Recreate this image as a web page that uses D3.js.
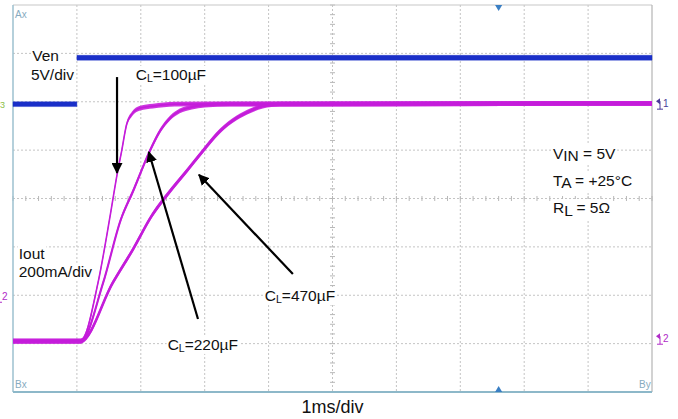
<!DOCTYPE html>
<html>
<head>
<meta charset="utf-8">
<script src="https://cdn.jsdelivr.net/npm/d3@7"></script>
<style>
body { margin: 0; background: #fff; }
text { font-family: "Liberation Sans", Arial, sans-serif; }
</style>
</head>
<body>
<script>
// scope settings: 1ms/div, 10 x 8 divisions
var divTimes = [-1, 0, 1, 2, 3, 4, 5, 6, 7, 8, 9];
var divLevels = [-4, -3, -2, -1, 0, 1, 2, 3, 4];

// Ven trace (V), 5V/div, ground at +1.95 div
var venTime = [-1, 0, null, 0, 9];
var venVolts = [0, 0, null, 4.8, 4.8];

// Iout traces (mA), 200mA/div, ground at -2.95 div
var caps = ["100µF", "220µF", "470µF"];
var ioutTime = [
  [-1, 0.06, 0.33, 0.52, 0.63, 0.70, 0.78, 0.86, 0.99, 1.19, 1.53, 9],
  [-1, 0.06, 0.41, 0.69, 0.88, 1.14, 1.30, 1.46, 1.61, 1.80, 2.00, 2.39, 9],
  [-1, 0.06, 0.56, 0.88, 1.17, 1.46, 1.72, 1.97, 2.24, 2.50, 2.71, 2.91, 3.18, 9]
];
var ioutMa = [
  [0, 0, 241, 518, 691, 786, 898, 939, 964, 972, 980, 983],
  [0, 0, 241, 505, 621, 786, 869, 923, 952, 968, 976, 980, 983],
  [0, 0, 241, 381, 518, 621, 704, 786, 869, 923, 952, 972, 980, 983]
];

var x = d3.scaleLinear().domain([-1, 9]).range([13, 652]);
var y = d3.scaleLinear().domain([-4, 4]).range([392, 5]);

var venDiv = function(v){ return 1.95 + v / 5; };
var ioutDiv = function(ma){ return -2.95 + ma / 200; };

var svg = d3.select("body").append("svg")
    .attr("width", 678)
    .attr("height", 419);

// grid
svg.selectAll("line.vgrid")
    .data(divTimes.slice(1, -1))
    .enter().append("line")
    .attr("class", "vgrid")
    .attr("x1", function(d){return x(d);})
    .attr("x2", function(d){return x(d);})
    .attr("y1", y(4))
    .attr("y2", y(-4))
    .attr("stroke", "#c4c4c4")
    .attr("stroke-dasharray", "2,2");

svg.selectAll("line.hgrid")
    .data(divLevels.slice(1, -1))
    .enter().append("line")
    .attr("class", "hgrid")
    .attr("y1", function(d){return y(d);})
    .attr("y2", function(d){return y(d);})
    .attr("x1", x(-1))
    .attr("x2", x(9))
    .attr("stroke", "#c4c4c4")
    .attr("stroke-dasharray", "2,2");

// minor ticks on the centre lines
svg.selectAll("line.xtick")
    .data(d3.range(-1, 9.001, 0.2))
    .enter().append("line")
    .attr("class", "xtick")
    .attr("x1", function(d){return x(d);})
    .attr("x2", function(d){return x(d);})
    .attr("y1", y(0) - 2.5)
    .attr("y2", y(0) + 2.5)
    .attr("stroke", "#b8b8b8");

svg.selectAll("line.ytick")
    .data(d3.range(-4, 4.001, 0.2))
    .enter().append("line")
    .attr("class", "ytick")
    .attr("y1", function(d){return y(d);})
    .attr("y2", function(d){return y(d);})
    .attr("x1", x(4) - 2.5)
    .attr("x2", x(4) + 2.5)
    .attr("stroke", "#b8b8b8");

// frame
svg.append("line").attr("x1", x(-1)).attr("x2", x(9)).attr("y1", y(4)).attr("y2", y(4))
    .attr("stroke", "#c8c8c8").attr("stroke-width", 1.2);
svg.append("line").attr("x1", x(9)).attr("x2", x(9)).attr("y1", y(4)).attr("y2", y(-4))
    .attr("stroke", "#b4b4b4").attr("stroke-width", 1.2);
svg.append("line").attr("x1", x(-1)).attr("x2", x(-1)).attr("y1", y(4)).attr("y2", y(-4))
    .attr("stroke", "#9cc0cf").attr("stroke-width", 1.5);
svg.append("line").attr("x1", x(-1)).attr("x2", x(9)).attr("y1", y(-4)).attr("y2", y(-4))
    .attr("stroke", "#8db8c9").attr("stroke-width", 2);

// cursor markers
svg.append("path")
    .attr("d", d3.symbol(d3.symbolTriangle, 22)())
    .attr("transform", "translate(" + x(6.6) + "," + (y(4) + 2) + ") rotate(180)")
    .attr("fill", "#3a7fc4");
svg.append("path")
    .attr("d", d3.symbol(d3.symbolTriangle, 22)())
    .attr("transform", "translate(" + x(6.6) + "," + (y(-4) - 2) + ")")
    .attr("fill", "#3a7fc4");

var corner = [["Ax", -1, 4, 13], ["Bx", -1, -4, -4], ["By", 9, -4, -4]];
svg.selectAll("text.corner")
    .data(corner)
    .enter().append("text")
    .attr("class", "corner")
    .attr("x", function(d){return x(d[1]) + (d[1] > 0 ? -13 : 2);})
    .attr("y", function(d){return y(d[2]) + d[3];})
    .attr("font-size", 10)
    .attr("fill", "#86abc0")
    .text(function(d){return d[0];});

// traces: a band of 5px height gives the scope's noisy look
var band = 2.4;

var venPts = venTime.map(function(t, i){return {t: t, v: venVolts[i]};});
var venArea = d3.area()
    .defined(function(d){return d.v != null;})
    .x(function(d){return x(d.t);})
    .y0(function(d){return y(venDiv(d.v)) + band;})
    .y1(function(d){return y(venDiv(d.v)) - band;});

svg.append("path")
    .attr("d", venArea(venPts))
    .attr("fill", "#1a2fc8")
    .attr("stroke", "#1a2fc8")
    .attr("stroke-width", 0.4);

var ioutArea = d3.area()
    .curve(d3.curveMonotoneX)
    .x(function(d){return x(d.t);})
    .y0(function(d){return y(ioutDiv(d.ma)) + band;})
    .y1(function(d){return y(ioutDiv(d.ma)) - band;});

var ioutLine = d3.line()
    .curve(d3.curveMonotoneX)
    .x(function(d){return x(d.t);})
    .y(function(d){return y(ioutDiv(d.ma));});

var ioutData = caps.map(function(c, k){
  return ioutTime[k].map(function(t, i){return {t: t, ma: ioutMa[k][i]};});
});

svg.selectAll("path.iarea")
    .data(ioutData)
    .enter().append("path")
    .attr("class", "iarea")
    .attr("d", ioutArea)
    .attr("fill", "#c820dc")
    .attr("fill-opacity", 0.9);

svg.selectAll("path.iline")
    .data(ioutData)
    .enter().append("path")
    .attr("class", "iline")
    .attr("d", ioutLine)
    .attr("fill", "none")
    .attr("stroke", "#c41cda")
    .attr("stroke-width", function(d, i){return 1.6 + i * 0.5;});

// channel markers
function marker(px, py, label, color) {
  var g = svg.append("g").attr("transform", "translate(" + px + "," + py + ")");
  g.append("path").attr("d", "M0,-3 L4,-6 L4,0 Z").attr("fill", color);
  g.append("line").attr("x1", 4).attr("x2", 4).attr("y1", -3).attr("y2", 5)
      .attr("stroke", color).attr("stroke-width", 1);
  g.append("line").attr("x1", 1).attr("x2", 7).attr("y1", 5).attr("y2", 5)
      .attr("stroke", color).attr("stroke-width", 1);
  g.append("text").attr("x", 7).attr("y", 3).attr("font-size", 10)
      .attr("fill", color).text(label);
}
marker(x(9) + 4, y(venDiv(0)), "1", "#4a3a9a");
marker(x(9) + 4, y(ioutDiv(0)) - 2, "2", "#b02cc8");
marker(-5, y(-2) + 2, "2", "#b02cc8");
svg.append("text").attr("x", 0).attr("y", y(venDiv(0)) + 4)
    .attr("font-size", 9).attr("fill", "#8cc048").text("3");

// labels with white boxes
function label(tx, ty, parts, size) {
  var g = svg.append("g");
  var t = g.append("text")
      .attr("x", x(tx))
      .attr("y", y(ty))
      .attr("font-size", size)
      .attr("fill", "#111");
  parts.forEach(function(p){
    t.append("tspan")
        .attr("font-size", p[1] ? size * 0.68 : size)
        .attr("dy", p[2] || 0)
        .text(p[0]);
  });
  var b = t.node().getBBox();
  g.insert("rect", "text")
      .attr("x", b.x - 1).attr("y", b.y)
      .attr("width", b.width + 2).attr("height", b.height)
      .attr("fill", "#fff");
}

label(-0.70, 2.84, [["Ven"]], 15.5);
label(-0.72, 2.45, [["5V/div"]], 15.5);
label(-0.91, -1.25, [["Iout"]], 15.5);
label(-0.91, -1.62, [["200mA/div"]], 15.5);
label(0.92, 2.45, [["C"], ["L", true, 2], ["=" + caps[0], false, -2]], 15.5);
label(1.42, -3.13, [["C"], ["L", true, 2], ["=" + caps[1], false, -2]], 15.5);
label(2.94, -2.12, [["C"], ["L", true, 2], ["=" + caps[2], false, -2]], 15.5);
label(7.45, 0.82, [["V"], ["IN", false, 2], [" = 5V", false, -2]], 15.5);
label(7.45, 0.26, [["T"], ["A", false, 2], [" = +25°C", false, -2]], 15.5);
label(7.45, -0.30, [["R"], ["L", false, 3], [" = 5Ω", false, -3]], 15.5);

// arrows, in scope units
svg.append("defs").append("marker")
    .attr("id", "head")
    .attr("viewBox", "0 0 10 10")
    .attr("refX", 9).attr("refY", 5)
    .attr("markerWidth", 5).attr("markerHeight", 5)
    .attr("orient", "auto")
    .append("path").attr("d", "M0,0 L10,5 L0,10 Z").attr("fill", "#000");

var arrows = [
  [0.628, 2.51, 0.628, 0.53],
  [1.895, -2.49, 1.125, 0.96],
  [3.38, -1.56, 1.91, 0.49]
];
svg.selectAll("line.arrow")
    .data(arrows)
    .enter().append("line")
    .attr("class", "arrow")
    .attr("x1", function(d){return x(d[0]);})
    .attr("y1", function(d){return y(d[1]);})
    .attr("x2", function(d){return x(d[2]);})
    .attr("y2", function(d){return y(d[3]);})
    .attr("stroke", "#000")
    .attr("stroke-width", 2.2)
    .attr("marker-end", "url(#head)");

// time base
svg.append("text")
    .attr("x", x(4))
    .attr("y", 413)
    .attr("text-anchor", "middle")
    .attr("font-size", 18)
    .attr("fill", "#111")
    .text("1ms/div");
</script>
</body>
</html>
